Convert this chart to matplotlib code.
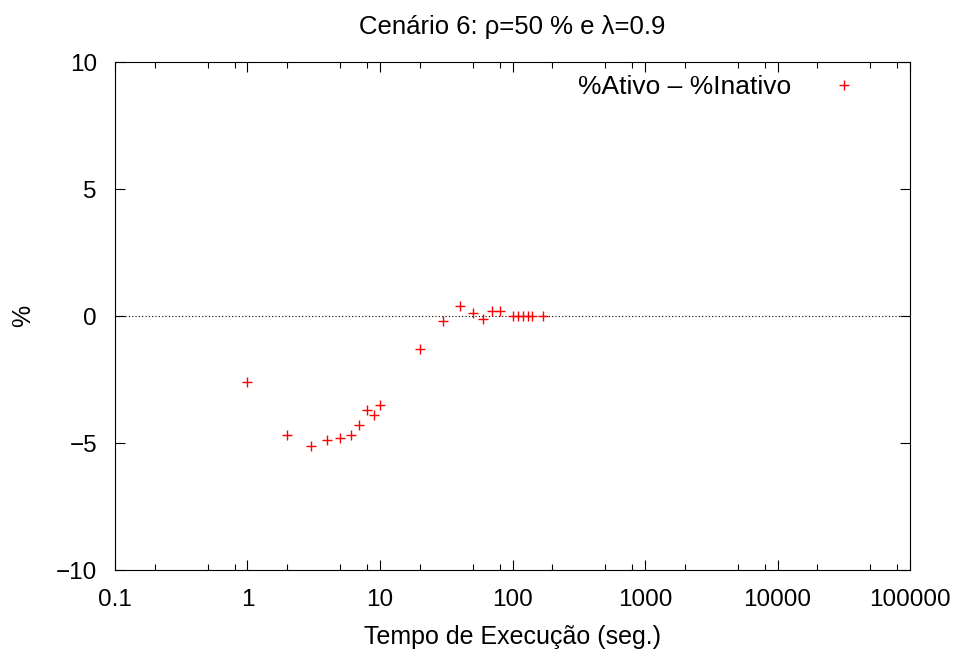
import numpy as np
import matplotlib.pyplot as plt
from matplotlib.ticker import LogLocator, FixedLocator, NullFormatter

plt.rcParams['font.family'] = ['Liberation Sans', 'DejaVu Sans']

# execution time (s) and difference %Ativo - %Inativo
tempo = [1, 2, 3, 4, 5, 6, 7, 8, 9, 10, 20, 30, 40, 50, 60, 70, 80,
         100, 110, 120, 130, 140, 170]
diferenca = [-2.6, -4.7, -5.1, -4.9, -4.8, -4.7, -4.3, -3.7, -3.9, -3.5,
             -1.3, -0.2, 0.4, 0.1, -0.1, 0.2, 0.2,
             0.0, 0.0, 0.0, 0.0, 0.0, 0.0]
xticks = [0.1, 1, 10, 100, 1000, 10000, 100000]
xlabels = ['0.1', '1', '10', '100', '1000', '10000', '100000']
yticks = [-10, -5, 0, 5, 10]
ylabels = ['\u221210', '\u22125', '0', '5', '10']

fig = plt.figure(figsize=(9.63, 6.53), dpi=100)
ax = fig.add_axes([0.1194, 0.1271, 0.8256, 0.7779])

ax.axhline(0, color='black', linestyle=(0, (1, 2)), linewidth=0.8)
ax.plot(tempo, diferenca, linestyle='none', marker='+', color='red',
        markersize=7, markeredgewidth=1.0, label='%Ativo – %Inativo')

ax.set_xscale('log')
ax.set_xlim(0.1, 100000)
ax.set_ylim(-10, 10)
ax.xaxis.set_major_locator(FixedLocator(xticks))
ax.set_xticklabels(xlabels)
# gnuplot-style minor ticks at 2, 5, 8 of each decade
ax.xaxis.set_minor_locator(LogLocator(base=10, subs=[2, 5, 8], numticks=20))
ax.xaxis.set_minor_formatter(NullFormatter())
ax.set_yticks(yticks)
ax.set_yticklabels(ylabels)

ax.tick_params(which='both', direction='in', top=True, right=True,
               labelsize=17.5, width=0.8)
ax.tick_params(axis='x', pad=14)
ax.tick_params(axis='y', pad=13)
ax.tick_params(which='major', length=7)
ax.tick_params(which='minor', length=4)
for s in ax.spines.values():
    s.set_linewidth(0.8)

ax.set_title('Cenário 6: ρ=50 % e λ=0.9', fontsize=18.5, pad=20)
ax.set_xlabel('Tempo de Execução (seg.)', fontsize=18, labelpad=10)
ax.set_ylabel('%', fontsize=18, labelpad=15)

ax.legend(loc='upper right', frameon=False, markerfirst=False, fontsize=19,
          handlelength=1.5, handletextpad=1.25, borderaxespad=0,
          bbox_to_anchor=(0.955, 0.995))

fig.savefig('out.png', dpi=100)
